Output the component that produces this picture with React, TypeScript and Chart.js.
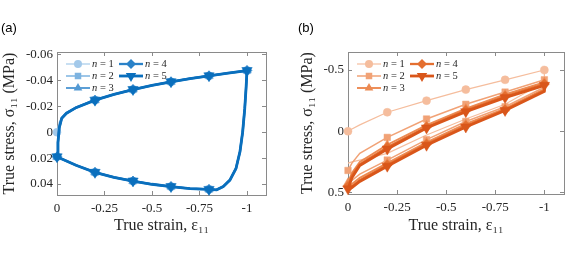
import React, { useEffect, useRef } from 'react';
import { Chart, registerables } from 'chart.js';

Chart.register(...registerables);

// ---------- shared axis data ----------
const xTicks = [0, -0.25, -0.5, -0.75, -1];
const xTickLabels = ['0', '-0.25', '-0.5', '-0.75', '-1'];
const yTicksA = [-0.06, -0.04, -0.02, 0, 0.02, 0.04];
const yTickLabelsA = ['-0.06', '-0.04', '-0.02', '0', '0.02', '0.04'];
const yTicksB = [-0.5, 0, 0.5];
const yTickLabelsB = ['-0.5', '0', '0.5'];
const seriesNumbers = ['1', '2', '3', '4', '5'];
const markerStrainsLoad = [0, -0.2, -0.4, -0.6, -0.8, -1];
const markerStrainsUnload = [-0.8, -0.6, -0.4, -0.2];

// ---------- panel (a) data ----------
const loadStrainA = [0, -0.005, -0.012, -0.025, -0.05, -0.1, -0.2, -0.3, -0.4, -0.5, -0.6, -0.7, -0.8, -0.9, -1];
const loadStressA1 = [0, -0.004, -0.008, -0.0115, -0.015, -0.0193, -0.025, -0.0292, -0.033, -0.0362, -0.039, -0.0415, -0.0436, -0.0457, -0.0477];
const loadStressA2 = [0.019, 0.007, -0.004, -0.011, -0.0148, -0.019, -0.0249, -0.0292, -0.033, -0.0362, -0.039, -0.0415, -0.0436, -0.0457, -0.0477];
const loadStressA3 = [0.019, 0.008, -0.004, -0.011, -0.0148, -0.019, -0.0248, -0.0292, -0.033, -0.0362, -0.039, -0.0415, -0.0436, -0.0457, -0.0477];
const loadStressA4 = [0.019, 0.008, -0.0035, -0.0108, -0.0147, -0.019, -0.0248, -0.0292, -0.033, -0.0362, -0.039, -0.0415, -0.0436, -0.0457, -0.0477];
const loadStressA5 = [0.019, 0.008, -0.0035, -0.0108, -0.0147, -0.019, -0.0248, -0.0292, -0.033, -0.0362, -0.039, -0.0415, -0.0436, -0.0457, -0.0477];
const unloadStrainA = [-0.995, -0.988, -0.977, -0.963, -0.942, -0.91, -0.875, -0.84, -0.8, -0.7, -0.6, -0.5, -0.4, -0.3, -0.2, -0.1, 0];
const unloadStressA1 = [-0.034, -0.018, 0.0, 0.015, 0.028, 0.037, 0.042, 0.0444, 0.0441, 0.0434, 0.042, 0.0401, 0.0377, 0.0348, 0.031, 0.0255, 0.019];
const unloadStressA2 = [-0.034, -0.018, 0.0, 0.015, 0.028, 0.037, 0.042, 0.0445, 0.0441, 0.0434, 0.042, 0.0401, 0.0377, 0.0348, 0.031, 0.0255, 0.019];
const unloadStressA3 = [-0.034, -0.018, 0.0, 0.015, 0.028, 0.037, 0.042, 0.0445, 0.0441, 0.0434, 0.042, 0.0401, 0.0377, 0.0348, 0.031, 0.0255, 0.019];
const unloadStressA4 = [-0.034, -0.018, 0.0, 0.015, 0.028, 0.037, 0.042, 0.0445, 0.0442, 0.0435, 0.042, 0.0402, 0.0377, 0.0348, 0.031, 0.0255, 0.019];
const unloadStressA5 = [-0.034, -0.018, 0.0, 0.015, 0.028, 0.037, 0.042, 0.0445, 0.0442, 0.0435, 0.042, 0.0402, 0.0377, 0.0348, 0.031, 0.0255, 0.019];

// ---------- panel (b) data ----------
const loadStrainB = [0, -0.02, -0.06, -0.2, -0.4, -0.6, -0.8, -1];
const loadStressB1 = [0, -0.018, -0.052, -0.155, -0.25, -0.34, -0.42, -0.5];
const loadStressB2 = [0.32, 0.26, 0.18, 0.05, -0.1, -0.22, -0.32, -0.42];
const loadStressB3 = [0.42, 0.34, 0.25, 0.11, -0.05, -0.185, -0.3, -0.4];
const loadStressB4 = [0.45, 0.36, 0.27, 0.13, -0.035, -0.17, -0.285, -0.385];
const loadStressB5 = [0.47, 0.38, 0.28, 0.145, -0.027, -0.16, -0.275, -0.375];
const unloadStrainB = [-1, -0.8, -0.6, -0.4, -0.2, -0.06, -0.02, 0];
const unloadStressB1 = [-0.4, -0.22, -0.1, 0.03, 0.18, 0.235, 0.25, 0.26];
const unloadStressB2 = [-0.36, -0.2, -0.08, 0.068, 0.235, 0.35, 0.4, 0.42];
const unloadStressB3 = [-0.345, -0.185, -0.06, 0.09, 0.26, 0.38, 0.43, 0.45];
const unloadStressB4 = [-0.335, -0.175, -0.045, 0.105, 0.275, 0.4, 0.45, 0.47];
const unloadStressB5 = [-0.325, -0.17, -0.035, 0.114, 0.285, 0.41, 0.46, 0.48];

// ---------- styles ----------
const colorsA = ['#a3c9ea', '#7db3e0', '#549ad4', '#2a82c8', '#0a6fbd'];
const colorsB = ['#f5bd9d', '#f1a276', '#ec8a52', '#e46f30', '#d9561a'];
const widthsA = [1.2, 1.5, 1.9, 2.3, 2.8];
const widthsB = [1.2, 1.5, 1.9, 2.3, 2.8];
const pointStyles = ['circle', 'rect', 'triangle', 'rectRot', 'triangle'];
const rotations = [0, 0, 0, 0, 180];
const radii = [4, 4.6, 5, 5, 6];

const SERIF = '"Liberation Serif", "DejaVu Serif", serif';
const TEXT = '#262626';
const AXIS = '#8a8a8a';

function buildSeries(loadX: number[], loadY: number[], unloadX: number[], unloadY: number[], r: number, markUnload: boolean) {
  const data: { x: number; y: number }[] = [];
  const rad: number[] = [];
  loadX.forEach((x, i) => {
    data.push({ x, y: loadY[i] });
    rad.push(markerStrainsLoad.includes(x) ? r : 0);
  });
  unloadX.forEach((x, i) => {
    data.push({ x, y: unloadY[i] });
    rad.push(markUnload && markerStrainsUnload.includes(x) ? r : 0);
  });
  return { data, rad };
}

function drawMarker(ctx: CanvasRenderingContext2D, style: string, rot: number, x: number, y: number, r: number) {
  ctx.beginPath();
  if (style === 'circle') {
    ctx.arc(x, y, r, 0, Math.PI * 2);
  } else if (style === 'rect') {
    const s = r * Math.SQRT1_2;
    ctx.rect(x - s, y - s, 2 * s, 2 * s);
  } else if (style === 'rectRot') {
    ctx.moveTo(x, y - r);
    ctx.lineTo(x + r, y);
    ctx.lineTo(x, y + r);
    ctx.lineTo(x - r, y);
    ctx.closePath();
  } else {
    let a = (rot * Math.PI) / 180;
    for (let k = 0; k < 3; k++) {
      const px = x + Math.sin(a) * r;
      const py = y - Math.cos(a) * r;
      if (k === 0) ctx.moveTo(px, py);
      else ctx.lineTo(px, py);
      a += (2 * Math.PI) / 3;
    }
    ctx.closePath();
  }
  ctx.fill();
}

function makePlugin(panelLabel: string, labelX: number) {
  return {
    id: 'customLegendAndLabel',
    afterDraw(chart: any) {
      const ctx = chart.ctx as CanvasRenderingContext2D;
      const area = chart.chartArea;
      ctx.save();
      // panel label
      ctx.fillStyle = '#000';
      ctx.font = '13px "Liberation Sans", Arial, sans-serif';
      ctx.textBaseline = 'middle';
      ctx.textAlign = 'left';
      ctx.fillText(panelLabel, labelX, 28);
      // legend
      const ds = chart.data.datasets;
      for (let i = 0; i < ds.length; i++) {
        const d = ds[i];
        const col = i < 3 ? 0 : 1;
        const row = i % 3;
        const x0 = area.left + 9 + col * 53;
        const y0 = area.top + 12 + row * 12;
        ctx.strokeStyle = d.borderColor;
        ctx.fillStyle = d.borderColor;
        ctx.lineWidth = d.borderWidth;
        ctx.beginPath();
        ctx.moveTo(x0, y0);
        ctx.lineTo(x0 + 24, y0);
        ctx.stroke();
        drawMarker(ctx, d.pointStyle, d.pointRotation, x0 + 12, y0, d.legendRadius);
        ctx.fillStyle = TEXT;
        ctx.font = 'italic 10.5px ' + SERIF;
        ctx.textBaseline = 'middle';
        ctx.fillText('n', x0 + 26, y0);
        const w = ctx.measureText('n').width;
        ctx.font = '10.5px ' + SERIF;
        ctx.fillText(' = ' + seriesNumbers[i], x0 + 26 + w, y0);
      }
      ctx.restore();
    },
  };
}

function makeConfig(panel: 'a' | 'b') {
  const isA = panel === 'a';
  const colors = isA ? colorsA : colorsB;
  const widths = isA ? widthsA : widthsB;
  const loads = isA
    ? [loadStressA1, loadStressA2, loadStressA3, loadStressA4, loadStressA5]
    : [loadStressB1, loadStressB2, loadStressB3, loadStressB4, loadStressB5];
  const unloads = isA
    ? [unloadStressA1, unloadStressA2, unloadStressA3, unloadStressA4, unloadStressA5]
    : [unloadStressB1, unloadStressB2, unloadStressB3, unloadStressB4, unloadStressB5];
  const loadX = isA ? loadStrainA : loadStrainB;
  const unloadX = isA ? unloadStrainA : unloadStrainB;
  const yTicks = isA ? yTicksA : yTicksB;
  const yLabels = isA ? yTickLabelsA : yTickLabelsB;
  const yMin = isA ? -0.062 : -0.647;
  const yMax = isA ? 0.0485 : 0.512;
  const yAxisWidth = isA ? 57 : 58;
  const rightPad = isA ? 24 : 7;
  const yTitlePad = isA ? 0 : 8;

  const datasets = seriesNumbers.map((n, i) => {
    const markUnload = isA ? true : i > 0;
    const s = buildSeries(loadX, loads[i], unloadX, unloads[i], radii[i], markUnload);
    return {
      label: 'n = ' + n,
      data: s.data,
      borderColor: colors[i],
      backgroundColor: colors[i],
      borderWidth: widths[i],
      pointStyle: pointStyles[i],
      pointRotation: rotations[i],
      pointRadius: s.rad,
      pointBorderWidth: 0.5,
      pointBorderColor: colors[i],
      pointBackgroundColor: colors[i],
      legendRadius: radii[i],
      tension: 0,
      clip: false as any,
      order: 5 - i,
      showLine: true,
    };
  });

  const tickFont = { family: SERIF, size: 13 };
  const titleFont = { family: SERIF, size: 16 };

  const hiddenGrid = {
    display: true,
    drawOnChartArea: false,
    drawTicks: true,
    tickLength: -4,
    color: AXIS,
    lineWidth: 1,
  };

  return {
    type: 'line' as const,
    data: { datasets },
    plugins: [makePlugin(isA ? '(a)' : '(b)', isA ? 1 : 8)],
    options: {
      animation: false as const,
      responsive: false,
      maintainAspectRatio: false,
      events: [],
      layout: { padding: { top: 52, right: rightPad, left: 0, bottom: 0 } },
      plugins: { legend: { display: false }, tooltip: { enabled: false }, title: { display: false } },
      scales: {
        x: {
          type: 'linear' as const,
          position: 'bottom' as const,
          min: -1.1,
          max: 0,
          reverse: true,
          afterBuildTicks: (s: any) => {
            s.ticks = xTicks.map((v) => ({ value: v }));
          },
          afterFit: (s: any) => {
            s.height = 261 - 52 - 143 + (isA ? 0 : 1);
          },
          ticks: {
            autoSkip: false,
            maxRotation: 0,
            padding: 10,
            color: TEXT,
            font: tickFont,
            callback: (v: number) => xTickLabels[xTicks.indexOf(v)],
          },
          grid: hiddenGrid,
          border: { display: true, color: AXIS, width: 1 },
          title: {
            display: true,
            text: 'True strain, ε₁₁',
            color: TEXT,
            font: titleFont,
            padding: { top: 0, bottom: 26 },
          },
        },
        x2: {
          type: 'linear' as const,
          position: 'top' as const,
          min: -1.1,
          max: 0,
          reverse: true,
          afterBuildTicks: (s: any) => {
            s.ticks = xTicks.map((v) => ({ value: v }));
          },
          afterFit: (s: any) => {
            s.height = 0;
          },
          ticks: { display: false },
          grid: hiddenGrid,
          border: { display: true, color: AXIS, width: 1 },
        },
        y: {
          type: 'linear' as const,
          position: 'left' as const,
          min: yMin,
          max: yMax,
          reverse: true,
          afterBuildTicks: (s: any) => {
            s.ticks = yTicks.map((v) => ({ value: v }));
          },
          afterFit: (s: any) => {
            s.width = yAxisWidth;
          },
          ticks: {
            autoSkip: false,
            padding: 8,
            color: TEXT,
            font: tickFont,
            callback: (v: number) => yLabels[yTicks.indexOf(v)],
          },
          grid: hiddenGrid,
          border: { display: true, color: AXIS, width: 1 },
          title: {
            display: true,
            text: 'True stress, σ₁₁ (MPa)',
            color: TEXT,
            font: titleFont,
            padding: { top: yTitlePad, bottom: 0 },
          },
        },
        y2: {
          type: 'linear' as const,
          position: 'right' as const,
          min: yMin,
          max: yMax,
          reverse: true,
          afterBuildTicks: (s: any) => {
            s.ticks = yTicks.map((v) => ({ value: v }));
          },
          afterFit: (s: any) => {
            s.width = 0;
          },
          ticks: { display: false },
          grid: hiddenGrid,
          border: { display: true, color: AXIS, width: 1 },
        },
      },
    },
  };
}

function Panel({ panel, left, width }: { panel: 'a' | 'b'; left: number; width: number }) {
  const ref = useRef<HTMLCanvasElement | null>(null);
  useEffect(() => {
    if (!ref.current) return;
    const chart = new Chart(ref.current, makeConfig(panel) as any);
    return () => chart.destroy();
  }, [panel]);
  return (
    <canvas
      ref={ref}
      width={width}
      height={261}
      style={{ position: 'absolute', left, top: 0, width, height: 261 }}
    />
  );
}

export default function App() {
  return (
    <div style={{ position: 'fixed', left: 0, top: 0, width: 571, height: 261, background: '#fff', overflow: 'hidden' }}>
      <Panel panel="a" left={0} width={290} />
      <Panel panel="b" left={290} width={281} />
    </div>
  );
}
